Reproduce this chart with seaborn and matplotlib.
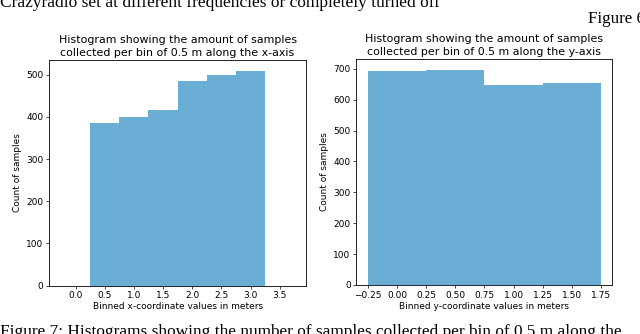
import numpy as np
import matplotlib
matplotlib.use("Agg")
import matplotlib.pyplot as plt
import seaborn as sns

# bin centres (0.5 m bins) and sample counts
x_centres = [0.0, 0.5, 1.0, 1.5, 2.0, 2.5, 3.0, 3.5]
x_counts = [0, 385, 400, 417, 486, 498, 509, 0]
x_edges = [-0.25, 0.25, 0.75, 1.25, 1.75, 2.25, 2.75, 3.25, 3.75]
x_ticks = [0.0, 0.5, 1.0, 1.5, 2.0, 2.5, 3.0, 3.5]

y_centres = [0.0, 0.5, 1.0, 1.5]
y_counts = [694, 697, 648, 653]
y_edges = [-0.25, 0.25, 0.75, 1.25, 1.75]
y_ticks = [-0.25, 0.0, 0.25, 0.5, 0.75, 1.0, 1.25, 1.5, 1.75]

bar_color = "#6aaed6"

plt.rcParams["axes.linewidth"] = 0.6
plt.rcParams["xtick.major.size"] = 2.2
plt.rcParams["ytick.major.size"] = 2.2
plt.rcParams["xtick.major.width"] = 0.5
plt.rcParams["ytick.major.width"] = 0.5
plt.rcParams["xtick.major.pad"] = 2
plt.rcParams["ytick.major.pad"] = 2
plt.rcParams["xtick.labelsize"] = 6.5
plt.rcParams["ytick.labelsize"] = 6.5

fig = plt.figure(figsize=(6.4, 3.34), dpi=100)
ax1 = fig.add_axes([0.077, 0.145, 0.401, 0.675])
ax2 = fig.add_axes([0.557, 0.147, 0.400, 0.676])

sns.histplot(x=x_centres, weights=x_counts, bins=x_edges, ax=ax1,
             color=bar_color, alpha=1, linewidth=0)
ax1.set_xticks(x_ticks)
ax1.set_yticks([0, 100, 200, 300, 400, 500])
ax1.set_title("Histogram showing the amount of samples\n"
              "collected per bin of 0.5 m along the x-axis",
              fontsize=7.9, pad=3, linespacing=1.35)
ax1.set_xlabel("Binned x-coordinate values in meters", fontsize=6.5, labelpad=1.5)
ax1.set_ylabel("Count of samples", fontsize=6.5, labelpad=3)

sns.histplot(x=y_centres, weights=y_counts, bins=y_edges, ax=ax2,
             color=bar_color, alpha=1, linewidth=0)
ax2.set_xticks(y_ticks)
ax2.set_yticks([0, 100, 200, 300, 400, 500, 600, 700])
ax2.set_title("Histogram showing the amount of samples\n"
              "collected per bin of 0.5 m along the y-axis",
              fontsize=7.9, pad=3, linespacing=1.35)
ax2.set_xlabel("Binned y-coordinate values in meters", fontsize=6.5, labelpad=1.5)
ax2.set_ylabel("Count of samples", fontsize=6.5, labelpad=3)

# surrounding paper text
serif = "Liberation Serif"
fig.text(0.0, 1 - 7.3 / 334, "Crazyradio set at different frequencies or completely turned off",
         family=serif, fontsize=12.5, va="baseline", ha="left")
fig.text(588 / 640, 1 - 22.7 / 334, "Figure 6",
         family=serif, fontsize=12.2, va="baseline", ha="left")
fig.text(0.0, -0.005, "Figure 7: Histograms showing the number of samples collected per bin of 0.5 m along the",
         family=serif, fontsize=12.4, va="baseline", ha="left")

fig.savefig("out.png", dpi=100)
